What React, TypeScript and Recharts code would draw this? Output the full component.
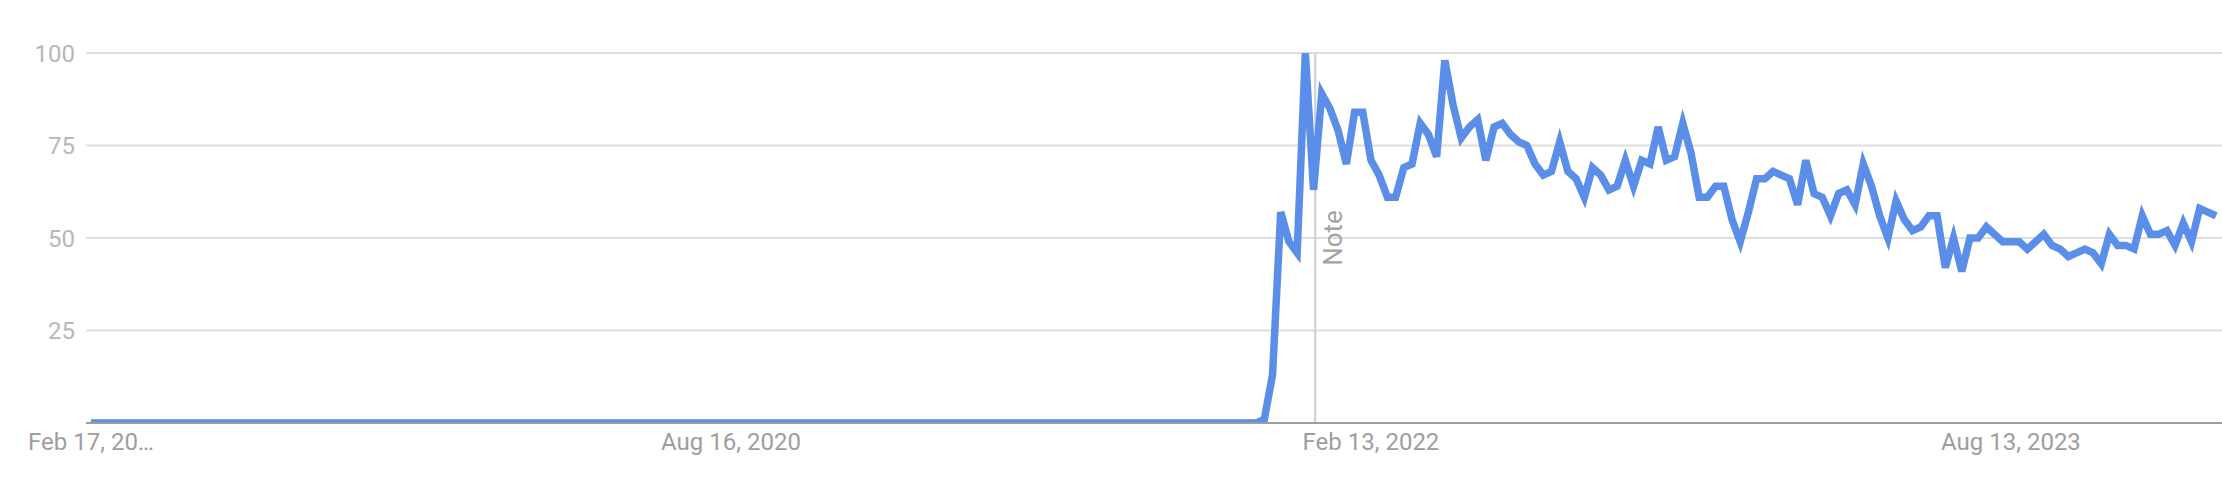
import React from "react";
import { LineChart, Line, XAxis, YAxis, CartesianGrid, ReferenceLine } from "recharts";

// Weekly interest, week 0 = Feb 17, 2019
const interestBeforeLaunch = [
  0, 0, 0, 0, 0, 0, 0, 0, 0, 0, 0, 0, 0, 0, 0, 0, 0, 0, 0, 0,
  0, 0, 0, 0, 0, 0, 0, 0, 0, 0, 0, 0, 0, 0, 0, 0, 0, 0, 0, 0,
  0, 0, 0, 0, 0, 0, 0, 0, 0, 0, 0, 0, 0, 0, 0, 0, 0, 0, 0, 0,
  0, 0, 0, 0, 0, 0, 0, 0, 0, 0, 0, 0, 0, 0, 0, 0, 0, 0, 0, 0,
  0, 0, 0, 0, 0, 0, 0, 0, 0, 0, 0, 0, 0, 0, 0, 0, 0, 0, 0, 0,
  0, 0, 0, 0, 0, 0, 0, 0, 0, 0, 0, 0, 0, 0, 0, 0, 0, 0, 0, 0,
  0, 0, 0, 0, 0, 0, 0, 0, 0, 0, 0, 0, 0, 0, 0, 0, 0, 0, 0, 0,
  0, 0, 0,
];

const interestAfterLaunch = [
  1, 13, 57, 49, 46, 100, 63, 89, 85, 79,
  70, 84, 84, 71, 67, 61, 61, 69, 70, 81,
  78, 72, 98, 86, 77, 80, 82, 71, 80, 81,
  78, 76, 75, 70, 67, 68, 76, 68, 66, 61,
  69, 67, 63, 64, 71, 64, 71, 70, 80, 71,
  72, 81, 73, 61, 61, 64, 64, 55, 49, 57,
  66, 66, 68, 67, 66, 59, 71, 62, 61, 56,
  62, 63, 59, 70, 64, 56, 50, 60, 55, 52,
  53, 56, 56, 42, 50, 41, 50, 50, 53, 51,
  49, 49, 49, 47, 49, 51, 48, 47, 45, 46,
  47, 46, 43, 51, 48, 48, 47, 56, 51, 51,
  52, 48, 54, 49, 58, 57, 56,
];

const interest = [...interestBeforeLaunch, ...interestAfterLaunch];

const xTickWeeks = [0, 78, 156, 234];
const xTickLabels = ["Feb 17, 20…", "Aug 16, 2020", "Feb 13, 2022", "Aug 13, 2023"];
const yTicks = [25, 50, 75, 100];
const noteWeek = 149.2;
const noteText = "Note";

const data = interest.map((v, i) => ({ week: i, value: v }));

const FONT = "Roboto, 'Noto Sans', Arial, sans-serif";

const NoteLabel = (props: any) => {
  const vb = props.viewBox || {};
  const tx = vb.x + 27;
  const ty = vb.y + vb.height / 2;
  return (
    <text
      x={tx}
      y={ty}
      transform={`rotate(-90, ${tx}, ${ty})`}
      textAnchor="middle"
      fill="#a3a3a3"
      fontSize={26}
      fontFamily={FONT}
    >
      {noteText}
    </text>
  );
};

export default function App() {
  return (
    <div style={{ position: "absolute", left: 0, top: 0, width: 2222, height: 492, background: "#fff" }}>
      <LineChart
        width={2222}
        height={492}
        data={data}
        margin={{ top: 53, right: 0, bottom: 0, left: 0 }}
        style={{ fontFamily: FONT }}
      >
        <CartesianGrid vertical={false} stroke="#dedede" strokeWidth={2} />
        <XAxis
          dataKey="week"
          type="number"
          domain={[-0.61, 259.72]}
          allowDataOverflow
          ticks={xTickWeeks}
          interval={0}
          tickFormatter={(w: number) => xTickLabels[xTickWeeks.indexOf(w)] ?? ""}
          tickLine={false}
          tickSize={0}
          tickMargin={10}
          height={69}
          axisLine={{ stroke: "#9e9e9e", strokeWidth: 2 }}
          tick={{ fill: "#9e9e9e", fontSize: 24, fontFamily: FONT }}
        />
        <YAxis
          type="number"
          domain={[0, 100]}
          allowDataOverflow
          ticks={yTicks}
          interval={0}
          width={86}
          axisLine={false}
          tickLine={false}
          tickSize={0}
          tickMargin={11}
          tick={{ fill: "#b8b8b8", fontSize: 24, fontFamily: FONT }}
        />
        <ReferenceLine x={noteWeek} stroke="#cfcfcf" strokeWidth={2} label={<NoteLabel />} />
        <Line
          type="linear"
          dataKey="value"
          stroke="#5b8ee8"
          strokeWidth={7.5}
          dot={false}
          activeDot={false}
          isAnimationActive={false}
        />
      </LineChart>
    </div>
  );
}
